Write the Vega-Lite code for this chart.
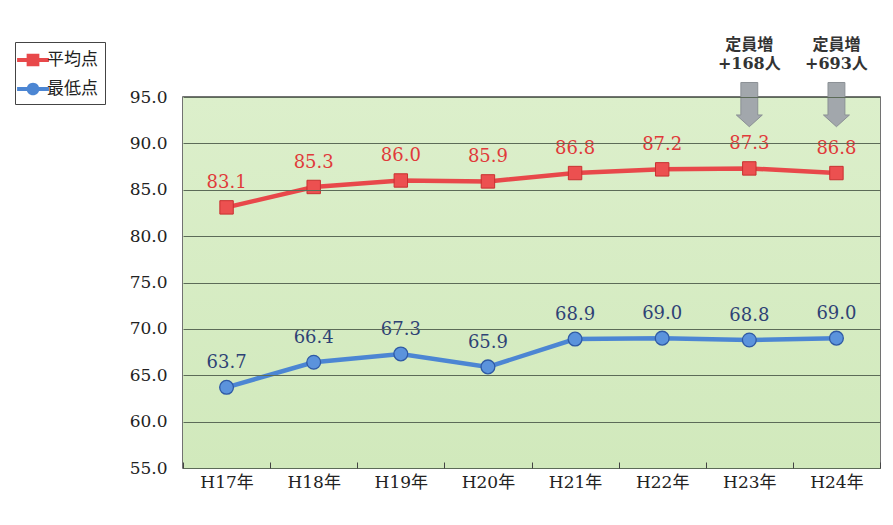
{
  "$schema": "https://vega.github.io/schema/vega-lite/v6.json",
  "autosize": {"type": "none"},
  "padding": {"left": 183, "top": 97, "right": 13, "bottom": 57},
  "width": 697,
  "height": 371,
  "background": "white",
  "config": {
    "view": {"stroke": "#444", "strokeWidth": 1.5},
    "font": "DejaVu Serif, Noto Sans CJK JP"
  },
  "datasets": {
    "scores": [
      {"year": "H17年", "series": "平均点", "value": 83.1},
      {"year": "H18年", "series": "平均点", "value": 85.3},
      {"year": "H19年", "series": "平均点", "value": 86.0},
      {"year": "H20年", "series": "平均点", "value": 85.9},
      {"year": "H21年", "series": "平均点", "value": 86.8},
      {"year": "H22年", "series": "平均点", "value": 87.2},
      {"year": "H23年", "series": "平均点", "value": 87.3},
      {"year": "H24年", "series": "平均点", "value": 86.8},
      {"year": "H17年", "series": "最低点", "value": 63.7},
      {"year": "H18年", "series": "最低点", "value": 66.4},
      {"year": "H19年", "series": "最低点", "value": 67.3},
      {"year": "H20年", "series": "最低点", "value": 65.9},
      {"year": "H21年", "series": "最低点", "value": 68.9},
      {"year": "H22年", "series": "最低点", "value": 69.0},
      {"year": "H23年", "series": "最低点", "value": 68.8},
      {"year": "H24年", "series": "最低点", "value": 69.0}
    ],
    "notes": [
      {"year": "H23年", "note": ["定員増", "+168人"]},
      {"year": "H24年", "note": ["定員増", "+693人"]}
    ]
  },
  "encoding": {
    "x": {
      "field": "year", "type": "nominal", "sort": null,
      "scale": {"paddingInner": 0, "paddingOuter": 0},
      "axis": {
        "title": null, "labelAngle": 0, "labelFontSize": 17, "labelColor": "#222",
        "labelPadding": 12, "tickBand": "extent", "tickSize": -6, "tickColor": "#444",
        "domain": false, "grid": false, "zindex": 1
      }
    }
  },
  "layer": [
    {
      "data": {"values": [{}]},
      "mark": {
        "type": "rect",
        "color": {
          "gradient": "linear", "x1": 0, "y1": 0, "x2": 0, "y2": 1,
          "stops": [{"offset": 0, "color": "#dcefcb"}, {"offset": 1, "color": "#d1e9bc"}]
        }
      },
      "encoding": {"x": null}
    },
    {
      "data": {"name": "scores"},
      "mark": {"type": "point", "opacity": 0, "filled": true},
      "encoding": {
        "y": {
          "field": "value", "type": "quantitative",
          "scale": {"domain": [55, 95], "nice": false, "zero": false},
          "axis": {
            "title": null, "values": [55, 60, 65, 70, 75, 80, 85, 90, 95], "format": ".1f",
            "labelFontSize": 17, "labelColor": "#222", "labelPadding": 16, "ticks": false,
            "domain": false, "grid": true, "gridColor": "#5c6b58", "gridWidth": 1, "zindex": 1
          }
        },
        "color": {
          "field": "series", "type": "nominal", "sort": ["平均点", "最低点"],
          "scale": {"range": ["#e8484a", "#4c86d3"]},
          "legend": {
            "title": null, "orient": "none", "legendX": -168, "legendY": -55,
            "labelFontSize": 17, "labelFont": "Noto Sans CJK JP", "labelColor": "#222",
            "symbolSize": 450, "symbolOpacity": 1, "symbolStrokeWidth": 0,
            "symbolType": "M-1.5,-0.2H1.5V0.2H-1.5Z M-0.6,-0.6H0.6V0.6H-0.6Z",
            "padding": 7, "rowPadding": 10, "labelOffset": 3,
            "strokeColor": "#444", "fillColor": "white",
            "encode": {
              "symbols": {
                "update": {
                  "shape": {"scale": "shape", "field": "value"}
                }
              }
            }
          }
        },
        "shape": {
          "field": "series", "type": "nominal", "sort": ["平均点", "最低点"],
          "scale": {"range": [
            "M-1.5,-0.2H1.5V0.2H-1.5Z M-0.6,-0.6H0.6V0.6H-0.6Z",
            "M-1.5,-0.2H1.5V0.2H-1.5Z M-0.6,0A0.6,0.6 0 1,1 0.6,0A0.6,0.6 0 1,1 -0.6,0Z"
          ]},
          "legend": null
        }
      }
    },
    {
      "data": {"name": "scores"},
      "transform": [{"filter": "datum.series === '平均点'"}],
      "layer": [
        {"mark": {"type": "line", "color": "#e8484a", "strokeWidth": 4.5}, "encoding": {"y": {"field": "value", "type": "quantitative"}}},
        {"mark": {"type": "point", "shape": "square", "filled": true, "size": 180, "color": "#ec5050", "stroke": "#c93030", "strokeWidth": 1, "opacity": 1}, "encoding": {"y": {"field": "value", "type": "quantitative"}}},
        {"mark": {"type": "text", "dy": -24, "fontSize": 18, "color": "#e03a3a"}, "encoding": {"y": {"field": "value", "type": "quantitative"}, "text": {"field": "value", "type": "quantitative", "format": ".1f"}}}
      ]
    },
    {
      "data": {"name": "scores"},
      "transform": [{"filter": "datum.series === '最低点'"}],
      "layer": [
        {"mark": {"type": "line", "color": "#4c86d3", "strokeWidth": 4.5}, "encoding": {"y": {"field": "value", "type": "quantitative"}}},
        {"mark": {"type": "point", "shape": "circle", "filled": true, "size": 190, "color": "#5b93dc", "stroke": "#2f5aa5", "strokeWidth": 1.3, "opacity": 1}, "encoding": {"y": {"field": "value", "type": "quantitative"}}},
        {"mark": {"type": "text", "dy": -24, "fontSize": 18, "color": "#2e4275"}, "encoding": {"y": {"field": "value", "type": "quantitative"}, "text": {"field": "value", "type": "quantitative", "format": ".1f"}}}
      ]
    },
    {
      "data": {"name": "notes"},
      "layer": [
        {
          "mark": {"type": "point", "shape": "M-0.65,-2.4H0.65V0.1H1L0,1L-1,0.1H-0.65Z", "filled": true, "size": 676, "color": "#a2a7ac", "stroke": "#8b9095", "strokeWidth": 1, "opacity": 1},
          "encoding": {"y": {"datum": 93.2, "type": "quantitative"}}
        },
        {
          "mark": {"type": "text", "fontSize": 16, "fontWeight": "bold", "font": "DejaVu Serif, Noto Sans CJK JP", "color": "#333", "lineHeight": 19, "baseline": "middle"},
          "encoding": {"y": {"datum": 100.6, "type": "quantitative"}, "text": {"field": "note"}}
        }
      ]
    }
  ]
}
